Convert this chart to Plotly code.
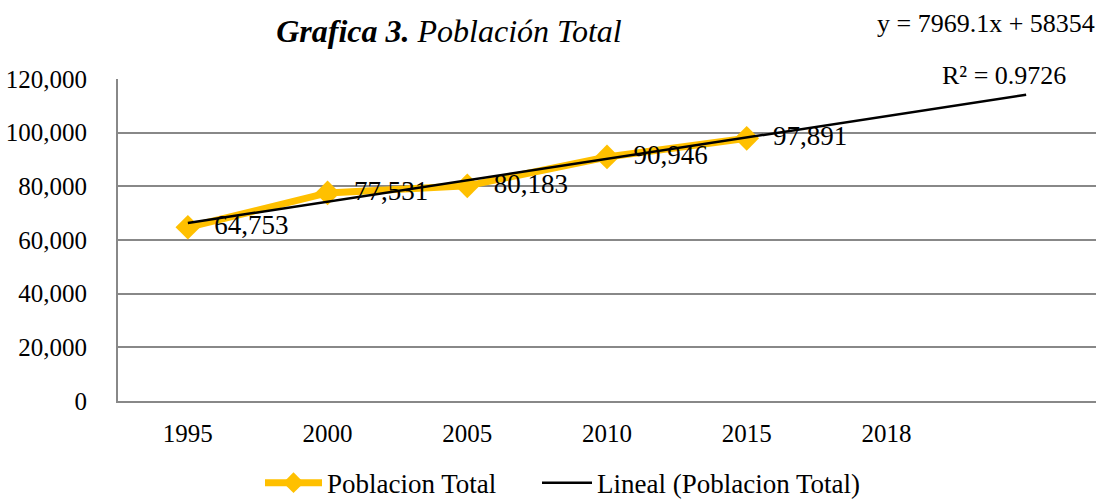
import numpy as np
import plotly.graph_objects as go

years = ["1995", "2000", "2005", "2010", "2015", "2018", ""]
population = [64753, 77531, 80183, 90946, 97891]
y_ticks = [0, 20000, 40000, 60000, 80000, 100000, 120000]
y_tick_text = ["0", "20,000", "40,000", "60,000", "80,000", "100,000", "120,000"]

x_pos = list(range(1, len(population) + 1))
slope, intercept = np.polyfit(x_pos, population, 1)
trend_x = np.array([1, len(years)])
trend_y = slope * trend_x + intercept
ss_res = sum((p - (slope * x + intercept)) ** 2 for x, p in zip(x_pos, population))
mean_p = np.mean(population)
ss_tot = sum((p - mean_p) ** 2 for p in population)
r2 = 1 - ss_res / ss_tot

FONT = "Liberation Serif"
YELLOW = "#FFC000"
GRID = "#888888"

fig = go.Figure()
fig.add_trace(go.Scatter(
    x=x_pos, y=population, mode="lines+markers+text",
    name="Poblacion Total",
    line=dict(color=YELLOW, width=7),
    marker=dict(symbol="diamond", size=19, color=YELLOW),
    text=["\u00a0\u00a0" + f"{v:,}" for v in population],
    textposition="middle right",
    textfont=dict(family=FONT, size=27, color="black"),
    cliponaxis=False,
    legend="legend",
))
fig.add_trace(go.Scatter(
    x=trend_x, y=trend_y, mode="lines",
    name="Lineal (Poblacion Total)",
    line=dict(color="black", width=2.5),
    legend="legend2",
))

legend_common = dict(
    orientation="h", xref="container", xanchor="left",
    y=-0.255, yanchor="middle",
    font=dict(family=FONT, size=27, color="black"),
    bgcolor="rgba(0,0,0,0)",
)

fig.update_layout(
    width=1109, height=499,
    margin=dict(l=118, r=13, t=79, b=98, autoexpand=False),
    paper_bgcolor="white", plot_bgcolor="white",
    font=dict(family=FONT, size=25, color="black"),
    title=dict(
        text="<b><i>Grafica 3.</i></b><i> Población Total</i>",
        x=449 / 1109, xanchor="center", y=1 - 31 / 499, yanchor="middle",
        font=dict(family=FONT, size=32, color="black"),
    ),
    showlegend=True,
    legend=dict(x=260 / 1109, itemwidth=57, **legend_common),
    legend2=dict(x=537 / 1109, itemwidth=50, **legend_common),
    xaxis=dict(
        range=[0.5, len(years) + 0.5],
        tickmode="array", tickvals=list(range(1, len(years) + 1)), ticktext=years,
        showgrid=False, zeroline=False,
        showline=True, linecolor=GRID, linewidth=2,
        ticks="", ticklabelstandoff=9, automargin=False,
        tickfont=dict(family=FONT, size=25),
    ),
    yaxis=dict(
        range=[0, 120000],
        tickmode="array", tickvals=y_ticks, ticktext=y_tick_text,
        showgrid=True, gridcolor=GRID, gridwidth=2,
        zeroline=False,
        showline=True, linecolor=GRID, linewidth=2,
        ticks="", ticklabelstandoff=24, automargin=False,
        tickfont=dict(family=FONT, size=25),
    ),
    annotations=[
        dict(text=f"y = {slope:.1f}x + {intercept:.0f}", xref="paper", yref="paper",
             x=1 + 1 / 978, y=1 + 56 / 322, xanchor="right", yanchor="middle",
             showarrow=False, font=dict(family=FONT, size=26)),
        dict(text=f"R² = {r2:.4f}", xref="x", yref="paper",
             x=7.3, y=1 + 4 / 322, xanchor="right", yanchor="middle",
             showarrow=False, font=dict(family=FONT, size=26)),
    ],
)

fig.write_html("out.html", config={"displayModeBar": False},
               post_script="document.body.style.margin='0';")
